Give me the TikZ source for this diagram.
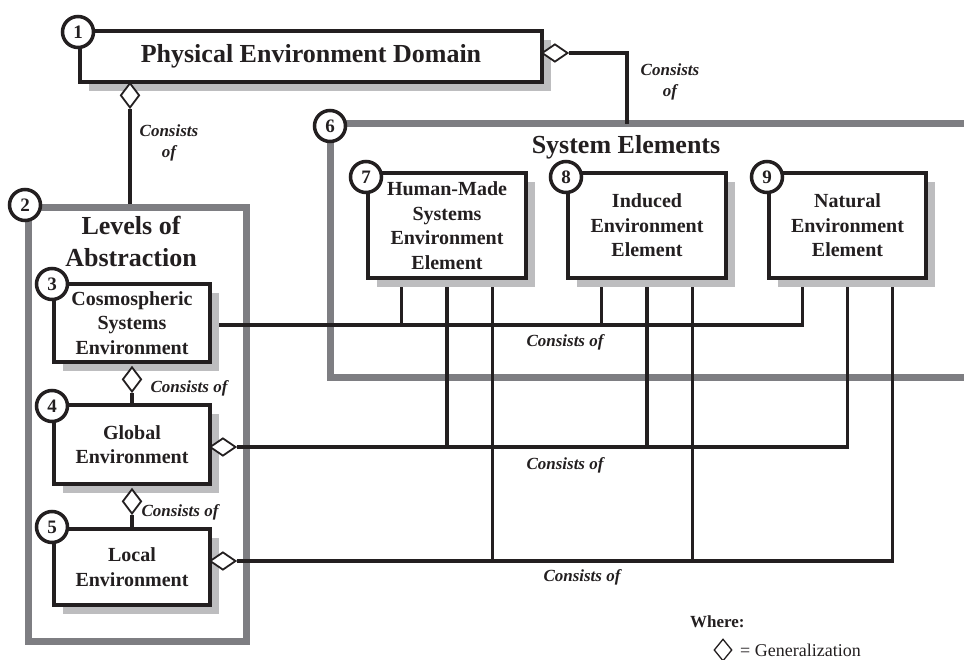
\documentclass[tikz,border=0pt]{standalone}
\usepackage{fontspec}
\setmainfont{Liberation Serif}
\usetikzlibrary{shapes.geometric,shadows,calc}
\definecolor{framegray}{HTML}{7E7E82}
\definecolor{shadegray}{HTML}{BDBDBF}
\definecolor{ink}{HTML}{231F20}
\pgfdeclarelayer{frames}
\pgfdeclarelayer{links}
\pgfsetlayers{frames,links,main}
\tikzset{
  elembox/.style={draw=ink, line width=4pt, fill=white, inner sep=0pt,
    anchor=north west, align=center, text=ink,
    font=\fontsize{20}{24.5}\selectfont\bfseries,
    drop shadow={shadow xshift=9pt, shadow yshift=-9pt, fill=shadegray, opacity=1}},
  numdisc/.style={circle, draw=ink, line width=3.5pt, fill=white,
    minimum size=31pt, inner sep=0pt, text=ink,
    font=\fontsize{19}{19}\selectfont\bfseries},
  frameline/.style={draw=framegray, line width=7pt},
  link/.style={draw=ink, line width=3.2pt},
  genh/.style={diamond, draw=ink, fill=white, line width=1.8pt,
    minimum width=26pt, minimum height=18pt, inner sep=0pt},
  genv/.style={diamond, draw=ink, fill=white, line width=1.8pt,
    minimum width=19pt, minimum height=25pt, inner sep=0pt},
  relabel/.style={text=ink, align=center,
    font=\fontsize{17}{21}\selectfont\bfseries\itshape},
  heading/.style={text=ink, align=center,
    font=\fontsize{26}{32}\selectfont\bfseries}
}
\begin{document}
\begin{tikzpicture}[x=1pt,y=-1pt]
\useasboundingbox (0,0) rectangle (964,660);

% --- element boxes ---
\node[elembox, minimum width=462pt, minimum height=51pt, font=\fontsize{26}{30}\selectfont\bfseries]
  (b1) at (78,29) {Physical Environment Domain};
\node[elembox, minimum width=156pt, minimum height=78pt] (b3) at (52,282)
  {Cosmospheric\\Systems\\Environment};
\node[elembox, minimum width=156pt, minimum height=79pt] (b4) at (52,403)
  {Global\\Environment};
\node[elembox, minimum width=156pt, minimum height=76pt] (b5) at (52,527)
  {Local\\Environment};
\node[elembox, minimum width=158pt, minimum height=105pt] (b7) at (366,171)
  {Human-Made\\Systems\\Environment\\Element};
\node[elembox, minimum width=158pt, minimum height=105pt] (b8) at (566,171)
  {Induced\\Environment\\Element};
\node[elembox, minimum width=157pt, minimum height=105pt] (b9) at (767,171)
  {Natural\\Environment\\Element};

% --- grouping frames ---
\begin{pgfonlayer}{frames}
  \node[frameline, minimum width=218pt, minimum height=434pt, inner sep=0pt,
    anchor=north west] (f2) at (25,204) {};
  \draw[frameline] (975,124) -| (330,377) -- (975,377);
\end{pgfonlayer}
\coordinate (f6top) at (627,124);

% --- headings ---
\node[heading] (t2) at (131,241) {Levels of\\Abstraction};
\node[heading] (t6) at (626,147) {System Elements};

% --- generalization diamonds ---
\node[genv, anchor=north] (d1s) at (130,82) {};
\node[genh, anchor=west] (d1e) at (541,53) {};
\node[genv, anchor=north] (d3s) at ($(b3.south)+(0,2)$) {};
\node[genv, anchor=north] (d4s) at ($(b4.south)+(0,2)$) {};
\node[genh, anchor=west] (d4e) at (209,447) {};
\node[genh, anchor=west] (d5e) at (209,561) {};

% --- tap points under the element boxes ---
\foreach \b in {b7,b8,b9}{
  \coordinate (\b-a) at ($(\b.south west)!0.22!(\b.south east)$);
  \coordinate (\b-b) at ($(\b.south west)!0.50!(\b.south east)$);
  \coordinate (\b-c) at ($(\b.south west)!0.78!(\b.south east)$);
}
\coordinate (busA) at (0,325);

% --- connectors ---
\begin{pgfonlayer}{links}
  \draw[link] (d1s.south) -- (d1s.south |- f2.north);
  \draw[link] (d1e.east) -| (f6top);
  \draw[link] (d3s.south) -- (d3s.south |- b4.north);
  \draw[link] (d4s.south) -- (d4s.south |- b5.north);
  % cosmospheric bus
  \draw[link] (b3.east |- busA) -- (b9-a |- busA) -- (b9-a);
  \draw[link] (b7-a) -- (b7-a |- busA);
  \draw[link] (b8-a) -- (b8-a |- busA);
  % global bus
  \draw[link] (d4e.east) -- (b9-b |- d4e.east) -- (b9-b);
  \draw[link] (b7-b) -- (b7-b |- d4e.east);
  \draw[link] (b8-b) -- (b8-b |- d4e.east);
  % local bus
  \draw[link] (d5e.east) -- (b9-c |- d5e.east) -- (b9-c);
  \draw[link] (b7-c) -- (b7-c |- d5e.east);
  \draw[link] (b8-c) -- (b8-c |- d5e.east);
\end{pgfonlayer}

% --- relation labels ---
\node[relabel] (l1) at (169,143) {Consists\\of};
\node[relabel] (l2) at (670,82) {Consists\\of};
\node[relabel] (l3) at (189,388) {Consists of};
\node[relabel] (l4) at (180,512) {Consists of};
\node[relabel] (l5) at (565,342) {Consists of};
\node[relabel] (l6) at (565,465) {Consists of};
\node[relabel] (l7) at (582,577) {Consists of};

% --- numbered discs ---
\node[numdisc] (n1) at ($(b1.north west)+(0,3)$) {1};
\node[numdisc] (n2) at (25,205) {2};
\node[numdisc] (n3) at ($(b3.north west)+(0,2)$) {3};
\node[numdisc] (n4) at ($(b4.north west)+(0,3)$) {4};
\node[numdisc] (n5) at ($(b5.north west)+(0,0)$) {5};
\node[numdisc] (n6) at (330,126) {6};
\node[numdisc] (n7) at ($(b7.north west)+(0,6)$) {7};
\node[numdisc] (n8) at ($(b8.north west)+(0,6)$) {8};
\node[numdisc] (n9) at ($(b9.north west)+(0,6)$) {9};

% --- legend ---
\node[anchor=west, text=ink, font=\fontsize{17}{17}\selectfont\bfseries, inner sep=0pt]
  (where) at (690,622) {Where:};
\node[diamond, draw=ink, line width=1.3pt, minimum width=18pt, minimum height=22pt,
  inner sep=0pt] (legd) at (723,650) {};
\node[anchor=west, text=ink, font=\fontsize{18}{18}\selectfont, inner sep=0pt]
  (legt) at (740,650) {= Generalization};
\end{tikzpicture}
\end{document}
